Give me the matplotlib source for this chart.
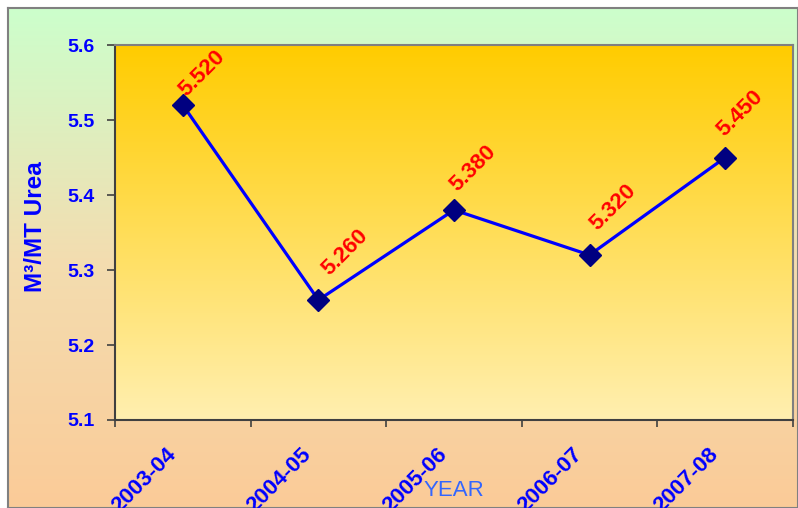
import matplotlib
matplotlib.use("Agg")
import matplotlib.pyplot as plt
import numpy as np
from matplotlib.colors import LinearSegmentedColormap

years = ["2003-04", "2004-05", "2005-06", "2006-07", "2007-08"]
values = [5.520, 5.260, 5.380, 5.320, 5.450]

W, H = 798, 508
fig = plt.figure(figsize=(W / 100, H / 100), dpi=100)
fig.patch.set_facecolor("white")

# outer chart-area gradient (green top -> peach bottom)
bg = fig.add_axes([8 / W, 0, 1 - 8 / W, 1 - 8 / H], zorder=0)
bg_cmap = LinearSegmentedColormap.from_list("bg", ["#FBCB98", "#F3DDB0", "#CCFFCC"])
bg.imshow(np.linspace(0, 1, 256).reshape(-1, 1), aspect="auto", cmap=bg_cmap,
          origin="lower", extent=[0, 1, 0, 1])
bg.set_xticks([]); bg.set_yticks([])
for s in bg.spines.values():
    s.set_color("#808080"); s.set_linewidth(1.5)

# plot area
left, right, top, bottom = 115, 793, 45, 420
ax = fig.add_axes([left / W, 1 - bottom / H, (right - left) / W, (bottom - top) / H], zorder=1)
pa_cmap = LinearSegmentedColormap.from_list("pa", ["#FFEFB0", "#FFCC00"])
ax.imshow(np.linspace(0, 1, 256).reshape(-1, 1), aspect="auto", cmap=pa_cmap,
          origin="lower", extent=[-0.5, 4.5, 5.1, 5.6], zorder=0)

x = np.arange(len(years))
ax.plot(x, values, color="#0000FF", lw=2.3, marker="D", ms=11,
        mfc="#000080", mec="#000080", zorder=3)
# label offsets in points (label centre relative to marker)
label_dx = [14, 19, 14, 17, 11]
label_dy = [23, 34, 30, 34, 32]
for xi, v, dx, dy in zip(x, values, label_dx, label_dy):
    ax.annotate(f"{v:.3f}", (xi, v), xytext=(dx, dy), textcoords="offset points",
                ha="center", va="center", rotation=45, color="#FF0000",
                fontsize=16, fontweight="bold", family="Liberation Sans")

ax.set_xlim(-0.5, 4.5)
ax.set_ylim(5.1, 5.6)
yt = np.arange(5.1, 5.61, 0.1)
ax.set_yticks(yt)
ax.set_yticklabels([f"{t:.1f}" for t in yt], color="#0000FF", fontsize=14,
                   fontweight="bold", family="Liberation Sans")
ax.set_xticks(np.arange(-0.5, 5, 1))
ax.set_xticklabels([])
# category labels, rotated, anchored left of each category centre
for xi, yr in zip(x, years):
    ax.annotate(yr, (xi, 0), xycoords=("data", "axes fraction"), xytext=(-12.5, -17),
                textcoords="offset points", ha="right", va="top", rotation=45,
                rotation_mode="anchor", color="#0000FF", fontsize=16,
                fontweight="bold", family="Liberation Sans", annotation_clip=False)
ax.tick_params(axis="x", length=5, direction="out", width=1.2, color="#404040")
ax.tick_params(axis="y", length=6, direction="out", width=1.2, color="#404040", pad=9)

for name, s in ax.spines.items():
    s.set_color("#808080" if name in ("top", "right") else "#404040")
    s.set_linewidth(1.5)

ax.set_ylabel("M³/MT Urea", color="#0000FF", fontsize=17.5, fontweight="bold",
              family="Liberation Sans")
ax.yaxis.set_label_coords(-(115 - 47) / 678, 0.517)
fig.text(454 / W, 1 - 490 / H, "YEAR", color="#3366FF", fontsize=16,
         family="Liberation Sans", ha="center", va="center", zorder=3)

fig.savefig("out.png", dpi=100)
